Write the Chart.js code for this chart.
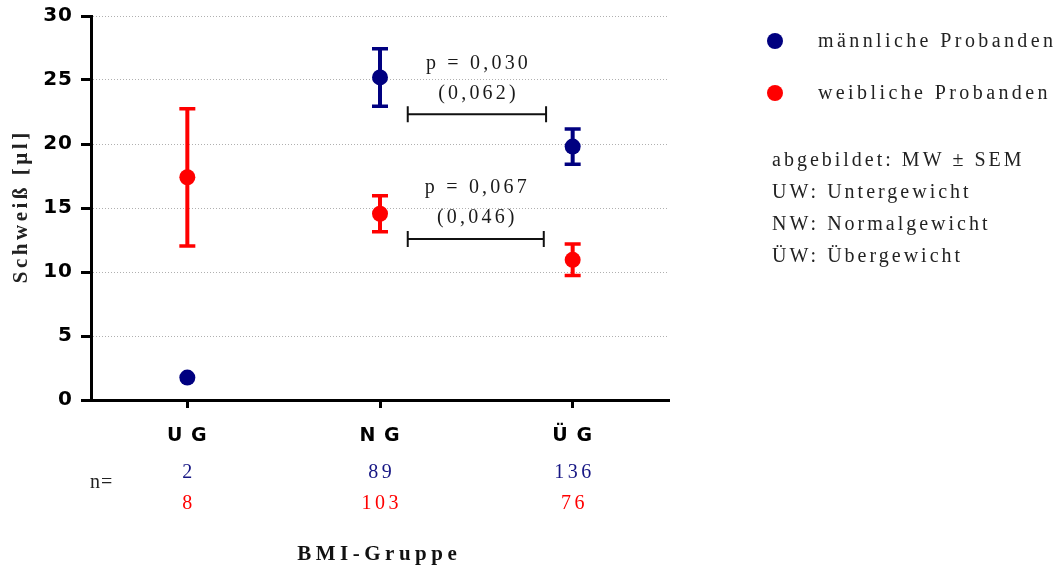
<!DOCTYPE html>
<html>
<head>
<meta charset="utf-8">
<script src="https://cdn.jsdelivr.net/npm/chart.js@4/dist/chart.umd.min.js"></script>
<style>
html,body{margin:0;padding:0;background:#fff}
#wrap{width:1059px;height:567px;position:relative}
</style>
</head>
<body>
<div id="wrap"><canvas id="c" width="1059" height="567"></canvas></div>
<script>
// ---- data ----
const categories = ['UG', 'NG', 'ÜG'];
const maleMean = [1.75, 25.2, 19.8];
const maleSem = [null, 2.25, 1.38];
const femaleMean = [17.4, 14.55, 10.95];
const femaleSem = [5.36, 1.4, 1.23];
const maleN = [2, 89, 136];
const femaleN = [8, 103, 76];
const yTicks = [0, 5, 10, 15, 20, 25, 30];
const seriesLabels = ['männliche Probanden', 'weibliche Probanden'];
const notes = ['abgebildet: MW ± SEM', 'UW: Untergewicht', 'NW: Normalgewicht', 'ÜW: Übergewicht'];
// comparison brackets (category index units / y units)
const bracketFrom = [1.144, 1.144];
const bracketTo = [1.862, 1.85];
const bracketY = [22.32, 12.58];
const pLabels = ['p = 0,030', 'p = 0,067'];
const pAltLabels = ['(0,062)', '(0,046)'];

const NAVY = '#000080';
const RED = '#ff0000';
const NUM_BLUE = '#161684';
const SERIF = '"Liberation Serif", "Times New Roman", serif';
const SANS = '"DejaVu Sans", sans-serif';

function spacedText(ctx, txt, x, y, align, spacing) {
  ctx.letterSpacing = spacing + 'px';
  ctx.textAlign = align;
  let dx = 0;
  if (align === 'center') dx = spacing / 2;
  else if (align === 'right') dx = spacing;
  ctx.fillText(txt, x + dx, y);
}

const annot = {
  id: 'annot',
  beforeDraw(chart) {
    chart.ctx.letterSpacing = '1px';
  },
  beforeDatasetsDraw(chart) {
    const {ctx, scales: {x, y}} = chart;
    ctx.save();
    chart.data.datasets.forEach(ds => {
      ds.data.forEach((m, i) => {
        const s = ds.sem[i];
        if (s == null) return;
        const px = x.getPixelForValue(i);
        const yt = y.getPixelForValue(m + s);
        const yb = y.getPixelForValue(m - s);
        ctx.strokeStyle = ds.borderColor;
        ctx.lineWidth = 4;
        ctx.beginPath(); ctx.moveTo(px, yt); ctx.lineTo(px, yb); ctx.stroke();
        ctx.lineWidth = 3.5;
        ctx.beginPath();
        ctx.moveTo(px - 8, yt); ctx.lineTo(px + 8, yt);
        ctx.moveTo(px - 8, yb); ctx.lineTo(px + 8, yb);
        ctx.stroke();
      });
    });
    ctx.restore();
  },
  afterDraw(chart) {
    const {ctx, scales: {x, y}, chartArea} = chart;
    ctx.save();
    // brackets + p values
    ctx.strokeStyle = '#111';
    ctx.fillStyle = '#1a1a1a';
    ctx.font = '20px ' + SERIF;
    ctx.textBaseline = 'middle';
    bracketY.forEach((v, k) => {
      const x1 = x.getPixelForValue(bracketFrom[k]);
      const x2 = x.getPixelForValue(bracketTo[k]);
      const py = y.getPixelForValue(v);
      ctx.lineWidth = 2;
      ctx.beginPath();
      ctx.moveTo(x1, py); ctx.lineTo(x2, py);
      ctx.moveTo(x1, py - 8); ctx.lineTo(x1, py + 8);
      ctx.moveTo(x2, py - 8); ctx.lineTo(x2, py + 8);
      ctx.stroke();
      const cx = (x1 + x2) / 2;
      spacedText(ctx, pLabels[k], cx, py - 51, 'center', 3.2);
      spacedText(ctx, pAltLabels[k], cx, py - 21, 'center', 3.2);
    });

    // y axis title
    ctx.save();
    ctx.translate(22, (chartArea.top + chartArea.bottom) / 2);
    ctx.rotate(-Math.PI / 2);
    ctx.font = 'bold 21px ' + SERIF;
    ctx.fillStyle = '#222';
    spacedText(ctx, 'Schweiß [µl]', 0, 0, 'center', 3.5);
    ctx.restore();

    // n= row
    ctx.font = '20px ' + SERIF;
    ctx.fillStyle = '#222';
    spacedText(ctx, 'n=', 90, 483, 'left', 1);
    categories.forEach((c, i) => {
      const px = x.getPixelForValue(i);
      ctx.fillStyle = NUM_BLUE;
      spacedText(ctx, String(maleN[i]), px, 473, 'center', 3.5);
      ctx.fillStyle = RED;
      spacedText(ctx, String(femaleN[i]), px, 504, 'center', 3.5);
    });

    // x axis title
    ctx.font = 'bold 21px ' + SERIF;
    ctx.fillStyle = '#111';
    spacedText(ctx, 'BMI-Gruppe', (chartArea.left + chartArea.right) / 2 - 3, 555, 'center', 4.5);

    // legend
    const colors = [NAVY, RED];
    const legY = [41, 93];
    ctx.font = '20px ' + SERIF;
    seriesLabels.forEach((lab, k) => {
      ctx.fillStyle = colors[k];
      ctx.beginPath(); ctx.arc(775, legY[k], 8, 0, Math.PI * 2); ctx.fill();
      ctx.fillStyle = '#222';
      spacedText(ctx, lab, 818, legY[k] + 1, 'left', 3.4);
    });
    notes.forEach((t, k) => {
      ctx.fillStyle = '#222';
      spacedText(ctx, t, 772, 161 + k * 32, 'left', 3.0);
    });
    ctx.restore();
  }
};

new Chart(document.getElementById('c'), {
  type: 'line',
  data: {
    labels: categories,
    datasets: [
      {label: seriesLabels[0], data: maleMean, sem: maleSem, showLine: false,
       pointRadius: 8, pointHoverRadius: 8, pointBorderWidth: 0,
       backgroundColor: NAVY, borderColor: NAVY},
      {label: seriesLabels[1], data: femaleMean, sem: femaleSem, showLine: false,
       pointRadius: 8, pointHoverRadius: 8, pointBorderWidth: 0,
       backgroundColor: RED, borderColor: RED}
    ]
  },
  options: {
    responsive: false,
    animation: false,
    devicePixelRatio: 1,
    events: [],
    layout: {padding: {left: 0, top: 16, right: 390, bottom: 0}},
    plugins: {legend: {display: false}, tooltip: {enabled: false}},
    scales: {
      x: {
        type: 'category',
        offset: true,
        grid: {offset: false, drawOnChartArea: false, drawTicks: true, tickLength: 8, tickWidth: 3, tickColor: '#000'},
        border: {display: true, color: '#000', width: 3},
        ticks: {
          color: '#000', font: {family: SANS, weight: 'bold', size: 19}, padding: 17,
          maxRotation: 0, autoSkip: false,
          callback: (v, i) => categories[i].split('').join(' ')
        },
        afterFit: s => { s.height = 167; s.paddingLeft = 0; s.paddingRight = 0; }
      },
      y: {
        min: 0, max: 30,
        afterBuildTicks: s => { s.ticks = yTicks.map(v => ({value: v})); },
        grid: {
          color: c => (c.tick && c.tick.value === 0) ? 'rgba(0,0,0,0)' : '#b0b0b0',
          lineWidth: 1, drawTicks: true, tickLength: 10, tickWidth: 3, tickColor: '#000'
        },
        border: {display: true, color: '#000', width: 3, dash: [1, 2]},
        ticks: {color: '#000', font: {family: SANS, weight: 'bold', size: 20}, padding: 8},
        afterFit: s => { s.width = 91; s.paddingTop = 0; s.paddingBottom = 0; }
      }
    }
  },
  plugins: [annot]
});
</script>
</body>
</html>
